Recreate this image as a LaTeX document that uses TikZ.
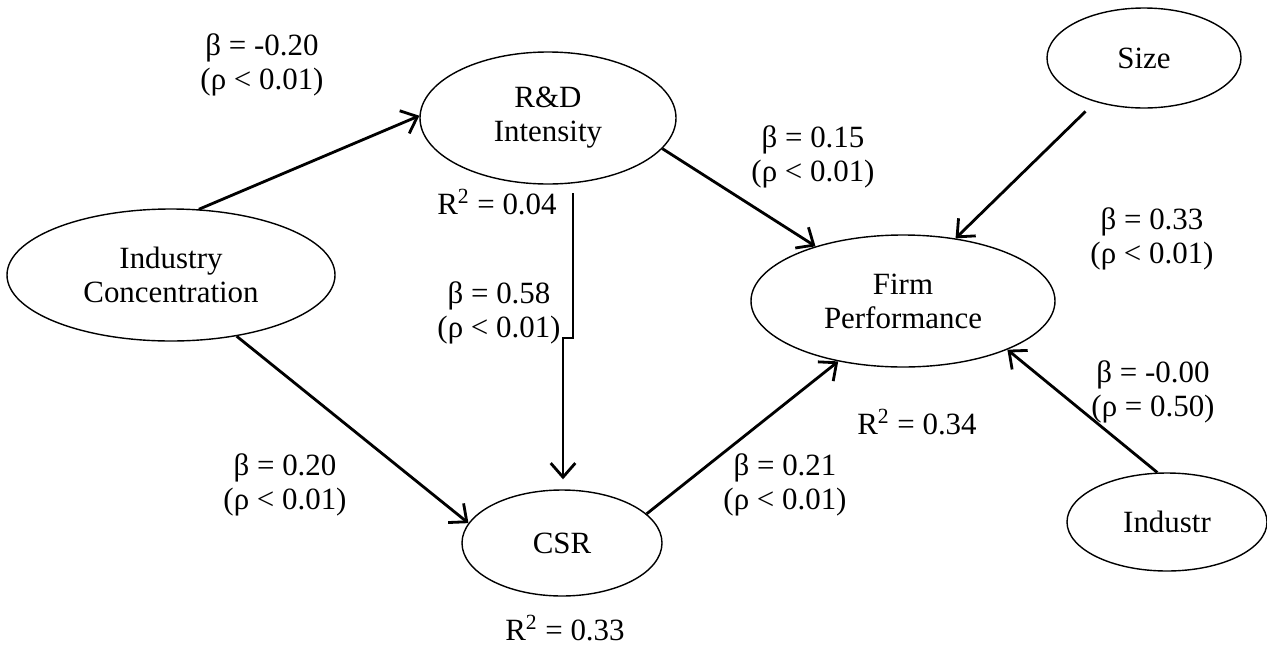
\documentclass[tikz,border=0pt]{standalone}
\usepackage{fontspec}
\setmainfont{Liberation Serif}
\usetikzlibrary{arrows.meta,shapes.geometric}

\begin{document}
\begin{tikzpicture}[
	every node/.style={font=\fontsize{17.6}{19.4}\selectfont},
	var/.style={ellipse,draw,line width=0.8pt,inner sep=0pt,align=center},
	arr/.style={line width=1.6pt,-{Straight Barb[length=8pt,width=14pt]}},
	lbl/.style={align=center,inner sep=0pt}]

	\useasboundingbox (0,0) rectangle (25.34,-12.9);

	% Variables
	\node[var,minimum width=6.56cm,minimum height=2.64cm] (indconc) at (3.42,-5.50) {Industry\\Concentration};
	\node[var,minimum width=5.12cm,minimum height=2.64cm] (rnd) at (10.96,-2.36) {R\&D\\Intensity};
	\node[var,minimum width=4.00cm,minimum height=2.12cm] (csr) at (11.24,-10.86) {CSR};
	\node[var,minimum width=6.08cm,minimum height=2.64cm] (firm) at (18.06,-6.02) {Firm\\Performance};
	\node[var,minimum width=3.88cm,minimum height=2.00cm] (size) at (22.88,-1.16) {Size};
	\node[var,minimum width=4.00cm,minimum height=1.96cm] (industr) at (23.34,-10.44) {Industr};

	% Coordenades del graó
	\coordinate (stepstart) at (11.46,-3.86);
	\coordinate (stepa) at (11.46,-6.76);
	\coordinate (stepb) at (11.26,-6.76);

	% Fletxes
	\draw[arr] (indconc.67) -- (rnd.179);
	\draw[arr] (indconc.-43) -- (csr.168);
	\draw[arr] (rnd.-15) -- (firm.148);
	\draw[arr] (csr.19) -- (firm.223);
	\draw[arr,shorten <=0.27cm] (size.222) -- (firm.50);
	\draw[arr] (industr.101) -- (firm.-25);
	\draw[arr,shorten >=0.2cm] (stepstart) -- (stepa) -- (stepb) -- (stepb |- csr.north);

	% Coeficients
	\node[lbl] (b1) at (5.24,-1.29) {β = -0.20\\(ρ < 0.01)};
	\node[lbl] (b2) at (16.26,-3.13) {β = 0.15\\(ρ < 0.01)};
	\node[lbl] (b3) at (23.04,-4.77) {β = 0.33\\(ρ < 0.01)};
	\node[lbl] (b4) at (9.98,-6.25) {β = 0.58\\(ρ < 0.01)};
	\node[lbl] (b5) at (23.06,-7.83) {β = -0.00\\(ρ = 0.50)};
	\node[lbl] (b6) at (5.70,-9.70) {β = 0.20\\(ρ < 0.01)};
	\node[lbl] (b7) at (15.70,-9.70) {β = 0.21\\(ρ < 0.01)};

	% R quadrat
	\node[lbl] (r1) at (9.94,-4.04) {R\textsuperscript{2} = 0.04};
	\node[lbl] (r2) at (18.34,-8.44) {R\textsuperscript{2} = 0.34};
	\node[lbl] (r3) at (11.30,-12.56) {R\textsuperscript{2} = 0.33};

\end{tikzpicture}
\end{document}
